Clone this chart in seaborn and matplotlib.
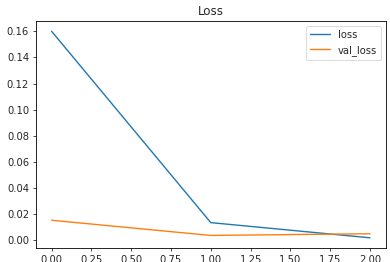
import matplotlib
matplotlib.use("Agg")
import matplotlib.pyplot as plt
import seaborn as sns
import pandas as pd

epochs = [0, 1, 2]
loss = [0.160, 0.0136, 0.0020]
val_loss = [0.0154, 0.0038, 0.0051]

sns.set_style("ticks")
plt.rcParams['font.family'] = ['DejaVu Sans']

df = pd.DataFrame({"epoch": epochs * 2,
                   "value": loss + val_loss,
                   "series": ["loss"] * 3 + ["val_loss"] * 3})

fig = plt.figure(figsize=(3.9, 2.62), dpi=100)
ax = fig.add_axes([0.0915, 0.053, 0.898, 0.867])
sns.lineplot(data=df, x="epoch", y="value", hue="series",
             palette=["#1f77b4", "#ff7f0e"], linewidth=1.0, ax=ax)
ax.set_xlabel("")
ax.set_ylabel("")
ax.set_title("Loss", fontsize=8.6, pad=4)
ax.set_xticks([0, 0.25, 0.5, 0.75, 1.0, 1.25, 1.5, 1.75, 2.0])
ax.set_xticklabels(["0.00", "0.25", "0.50", "0.75", "1.00", "1.25", "1.50", "1.75", "2.00"])
ax.set_yticks([0, 0.02, 0.04, 0.06, 0.08, 0.10, 0.12, 0.14, 0.16])
ax.set_yticklabels(["0.00", "0.02", "0.04", "0.06", "0.08", "0.10", "0.12", "0.14", "0.16"])
ax.tick_params(labelsize=7.2, length=2.5, width=0.6, pad=2.3)
for s in ax.spines.values():
    s.set_linewidth(0.6)
    s.set_color("black")
    s.set_visible(True)
ax.set_xlim(-0.1, 2.1)
ax.set_ylim(-0.0059, 0.1679)
leg = ax.legend(loc="upper right", fontsize=7.2, frameon=True, handlelength=2.0,
                borderpad=0.4, labelspacing=0.5, handletextpad=0.8)
leg.get_frame().set_linewidth(0.6)
fig.savefig("out.png", dpi=100)
